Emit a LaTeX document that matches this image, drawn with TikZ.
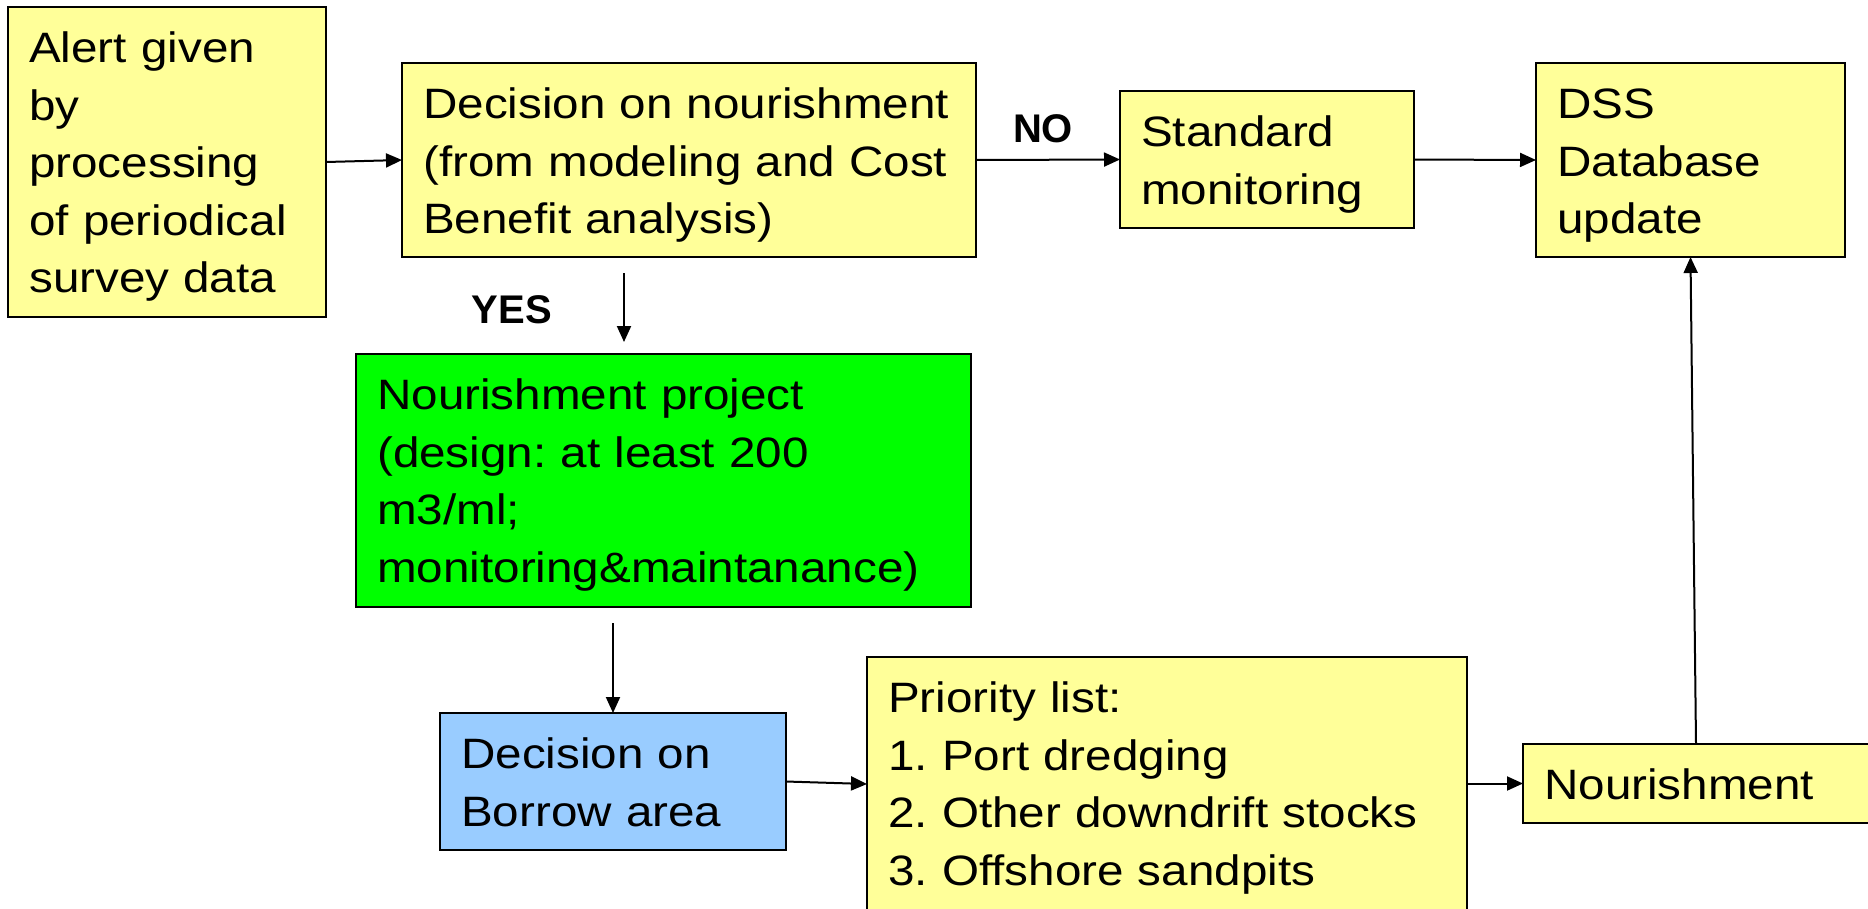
\documentclass[tikz,border=0pt]{standalone}
\usepackage{fontspec}
\setmainfont{Liberation Sans}[FakeStretch=1.12]
\newfontfamily\lblfont{Liberation Sans}
\usetikzlibrary{arrows.meta}
\definecolor{boxyellow}{RGB}{255,255,153}
\definecolor{boxgreen}{RGB}{0,255,0}
\definecolor{boxblue}{RGB}{153,204,255}
\frenchspacing
\begin{document}
\begin{tikzpicture}[x=1pt,y=1pt,
  box/.style={draw=black, line width=2pt, fill=boxyellow, anchor=north west,
    inner sep=0pt, outer sep=0pt},
  txt/.style={anchor=base west, inner sep=0pt, align=left, text width=700pt,
    font=\fontsize{42.5}{57.5}\selectfont},
  lbl/.style={anchor=base, inner sep=0pt, font=\lblfont\bfseries\fontsize{40}{48}\selectfont},
  arr/.style={line width=2pt, -{Triangle[length=16pt,width=14pt]}}]
\useasboundingbox (0,0) rectangle (1868,-908);
\clip (0,0) rectangle (1868,-908);

% boxes
\node[box, minimum width=318pt, minimum height=310pt] (alert) at (8,-7) {};
\node[box, minimum width=574pt, minimum height=194pt] (decision) at (402,-63) {};
\node[box, minimum width=294pt, minimum height=137pt] (standard) at (1120,-91) {};
\node[box, minimum width=309pt, minimum height=194pt] (dss) at (1536,-63) {};
\node[box, fill=boxgreen, minimum width=615pt, minimum height=253pt] (project) at (356,-354) {};
\node[box, fill=boxblue, minimum width=346pt, minimum height=137pt] (borrow) at (440,-713) {};
\node[box, minimum width=600pt, minimum height=280pt] (priority) at (867,-657) {};
\node[box, minimum width=360pt, minimum height=79pt] (nourish) at (1523,-744) {};

% box texts
\node[txt] (alertT) at ([shift={(21pt,-55.5pt)}]alert.north west)
  {Alert given\\by\\processing\\of periodical\\survey data};
\node[txt] (decisionT) at ([shift={(21pt,-55.5pt)}]decision.north west)
  {Decision on nourishment\\(from modeling and Cost\\Benefit analysis)};
\node[txt] (standardT) at ([shift={(21pt,-55.5pt)}]standard.north west)
  {Standard\\monitoring};
\node[txt] (dssT) at ([shift={(21pt,-55.5pt)}]dss.north west)
  {DSS\\Database\\update};
\node[txt] (projectT) at ([shift={(21pt,-55.5pt)}]project.north west)
  {Nourishment project\\(design: at least 200\\m3/ml;\\monitoring\&maintanance)};
\node[txt] (borrowT) at ([shift={(21pt,-55.5pt)}]borrow.north west)
  {Decision on\\Borrow area};
\node[txt] (priorityT) at ([shift={(21pt,-55.5pt)}]priority.north west)
  {Priority list:\\1. Port dredging\\2. Other downdrift stocks\\3. Offshore sandpits};
\node[txt] (nourishT) at ([shift={(21pt,-55.5pt)}]nourish.north west)
  {Nourishment};

% branch labels
\node[lbl] (yes) at (512,-323) {YES};
\node[lbl] (no) at (1043,-142) {NO};

% connectors
\draw[arr] (alert.east) -- (decision.west);
\draw[arr] (decision.east) -- (standard.west);
\draw[arr] (standard.east) -- (dss.west);
\draw[arr, shorten <=16pt, shorten >=12pt] ([xshift=-65pt]decision.south)
  -- ([xshift=-65pt]decision.south |- project.north);
\draw[arr, shorten <=16pt] (borrow.north |- project.south) -- (borrow.north);
\draw[arr] (borrow.east) -- ([yshift=-2.5pt]borrow.east -| priority.west);
\draw[arr] (nourish.west -| priority.east) -- (nourish.west);
\draw[arr] ([xshift=5.5pt]dss.south |- nourish.north) -- (dss.south);
\end{tikzpicture}
\end{document}
